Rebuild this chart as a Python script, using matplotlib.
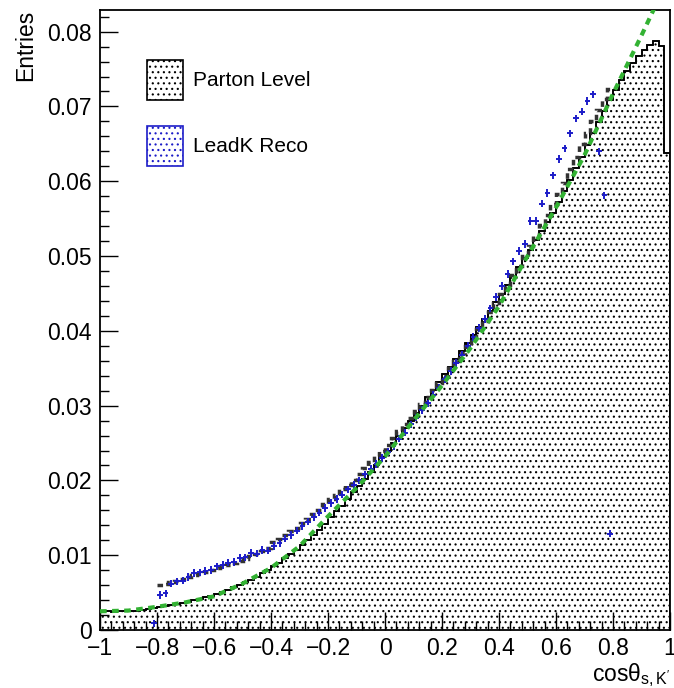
import numpy as np
import matplotlib
matplotlib.use("Agg")
import matplotlib.pyplot as plt
from matplotlib.patches import Patch
from matplotlib.ticker import MultipleLocator, FuncFormatter

plt.rcParams['font.family'] = ['Liberation Sans', 'DejaVu Sans']
plt.rcParams['mathtext.fontset'] = 'custom'
plt.rcParams['mathtext.rm'] = 'Liberation Sans'
plt.rcParams['mathtext.it'] = 'Liberation Sans:italic'
plt.rcParams['hatch.linewidth'] = 0.8

# binning: 100 bins on [-1, 1]
n_bins = 100
edges = np.linspace(-1, 1, n_bins + 1)

# Parton Level histogram (filled)
parton = [
    0.0026, 0.0025, 0.0024, 0.0025, 0.0025, 0.0026, 0.0026, 0.0027, 0.0028, 0.0029,
    0.0031, 0.0032, 0.0033, 0.0035, 0.0036, 0.0038, 0.0040, 0.0042, 0.0044, 0.0046,
    0.0048, 0.0051, 0.0054, 0.0057, 0.0060, 0.0064, 0.0067, 0.0071, 0.0076, 0.0080,
    0.0085, 0.0090, 0.0096, 0.0101, 0.0107, 0.0113, 0.0120, 0.0127, 0.0134, 0.0142,
    0.0151, 0.0159, 0.0166, 0.0175, 0.0184, 0.0192, 0.0202, 0.0211, 0.0221, 0.0231,
    0.0240, 0.0250, 0.0259, 0.0270, 0.0280, 0.0290, 0.0300, 0.0311, 0.0321, 0.0331,
    0.0342, 0.0352, 0.0362, 0.0373, 0.0384, 0.0394, 0.0405, 0.0416, 0.0427, 0.0438,
    0.0449, 0.0461, 0.0473, 0.0485, 0.0497, 0.0508, 0.0521, 0.0533, 0.0546, 0.0558,
    0.0572, 0.0587, 0.0602, 0.0618, 0.0633, 0.0649, 0.0664, 0.0679, 0.0694, 0.0708,
    0.0722, 0.0735, 0.0748, 0.0758, 0.0767, 0.0775, 0.0782, 0.0788, 0.0781, 0.0638,
]

# black dashed histogram, bins from -0.8 to 0.8
black_lo = -0.8
black = [
    0.0060, 0.0062, 0.0064, 0.0066, 0.0068, 0.0071, 0.0073, 0.0075, 0.0078, 0.0080,
    0.0083, 0.0085, 0.0087, 0.0090, 0.0092, 0.0095, 0.0099, 0.0102, 0.0106, 0.0110,
    0.0117, 0.0122, 0.0127, 0.0132, 0.0137, 0.0143, 0.0149, 0.0155, 0.0161, 0.0168,
    0.0175, 0.0181, 0.0188, 0.0194, 0.0201, 0.0208, 0.0216, 0.0224, 0.0232, 0.0240,
    0.0248, 0.0257, 0.0266, 0.0275, 0.0284, 0.0293, 0.0302, 0.0311, 0.0321, 0.0330,
    0.0340, 0.0350, 0.0360, 0.0370, 0.0380, 0.0391, 0.0402, 0.0413, 0.0425, 0.0437,
    0.0449, 0.0461, 0.0474, 0.0487, 0.0500, 0.0513, 0.0527, 0.0541, 0.0555, 0.0569,
    0.0583, 0.0598, 0.0616, 0.0633, 0.0650, 0.0665, 0.0680, 0.0695, 0.0710, 0.0724,
]

# LeadK Reco points, bins from -0.82 to 0.80
reco_lo = -0.82
reco = [
    0.0009,
    0.0047, 0.0049, 0.0062, 0.0065, 0.0066, 0.0071, 0.0076, 0.0077, 0.0079, 0.0080,
    0.0085, 0.0087, 0.0090, 0.0091, 0.0096, 0.0097, 0.0103, 0.0102, 0.0107, 0.0106,
    0.0112, 0.0116, 0.0122, 0.0127, 0.0133, 0.0139, 0.0145, 0.0151, 0.0157, 0.0163,
    0.0170, 0.0175, 0.0181, 0.0188, 0.0194, 0.0200, 0.0208, 0.0215, 0.0222, 0.0230,
    0.0238, 0.0246, 0.0256, 0.0264, 0.0275, 0.0284, 0.0294, 0.0303, 0.0314, 0.0324,
    0.0335, 0.0346, 0.0357, 0.0368, 0.0380, 0.0392, 0.0404, 0.0416, 0.0430, 0.0445,
    0.0460, 0.0476, 0.0493, 0.0507, 0.0516, 0.0547, 0.0547, 0.0570, 0.0584, 0.0608,
    0.0630, 0.0644, 0.0664, 0.0684, 0.0693, 0.0707, 0.0716, 0.0640, 0.0581, 0.0129,
]
reco_err = 0.0005

# green dashed curve
green_x = [-1.0, -0.9, -0.8, -0.7, -0.6, -0.5, -0.4, -0.3, -0.2, -0.1, 0.0,
           0.1, 0.2, 0.3, 0.4, 0.5, 0.6, 0.7, 0.8, 0.9, 1.0]
green_y = [0.0025, 0.0026, 0.0031, 0.0037, 0.0045, 0.0062, 0.0083, 0.0112, 0.0152, 0.0190, 0.0232,
           0.0280, 0.0327, 0.0377, 0.0433, 0.0500, 0.0565, 0.0635, 0.0717, 0.0795, 0.0876]

labels = ["Parton Level", "LeadK Reco"]

fig = plt.figure(figsize=(6.74, 6.88), dpi=100)
ax = fig.add_axes([0.1484, 0.0843, 0.8457, 0.9012])

ax.stairs(parton, edges, fill=True, facecolor='white', edgecolor='black',
          hatch='...', linewidth=1.2, zorder=1)
ax.stairs(parton, edges, color='black', linewidth=1.2, zorder=2)

bw = edges[1] - edges[0]
black_edges = np.arange(len(black) + 1) * bw + black_lo
ax.stairs(black, black_edges, baseline=None, color='#333333', linewidth=2.5,
          linestyle=(0, (1.6, 1.2)), zorder=3)

reco_x = reco_lo + bw / 2 + np.arange(len(reco)) * bw
ax.errorbar(reco_x, reco, xerr=bw / 2, yerr=reco_err, fmt='none',
            ecolor='#1c1cc8', elinewidth=1.4, capsize=0, zorder=4)

ax.plot(green_x, green_y, color='#33b233', linewidth=3.0,
        linestyle=(0, (1.6, 1.3)), zorder=5)

ax.set_xlim(-1, 1)
ax.set_ylim(0, 0.0829)

ax.xaxis.set_major_locator(MultipleLocator(0.2))
ax.xaxis.set_minor_locator(MultipleLocator(0.04))
ax.yaxis.set_major_locator(MultipleLocator(0.01))
ax.yaxis.set_minor_locator(MultipleLocator(0.002))
fmt = FuncFormatter(lambda v, p: ('%g' % round(v, 4)).replace('-', '\u2212'))
ax.xaxis.set_major_formatter(fmt)
ax.yaxis.set_major_formatter(fmt)
ax.tick_params(which='major', direction='in', length=13, width=1.0,
               labelsize=16.5, top=False, right=False)
ax.tick_params(which='minor', direction='in', length=6.5, width=1.0,
               top=False, right=False)
ax.tick_params(axis='y', pad=6)
ax.tick_params(axis='x', pad=5)
for s in ax.spines.values():
    s.set_linewidth(1.3)

ax.set_ylabel('Entries', loc='top', fontsize=16.5, labelpad=7)
ax.set_xlabel(r'cosθ$_{\mathregular{s,K}^{\prime}}$', loc='right', fontsize=16.5, labelpad=1)

handles = [
    Patch(facecolor='white', edgecolor='black', hatch='...', linewidth=1.2),
    Patch(facecolor='white', edgecolor='#1c1cc8', hatch='...', linewidth=1.2),
]
ax.legend(handles, labels, loc='upper left', bbox_to_anchor=(0.0825, 0.919),
          frameon=False, fontsize=15, handlelength=1.73, handleheight=2.55,
          handletextpad=0.48, labelspacing=1.25, borderpad=0, borderaxespad=0)

fig.savefig('out.png', dpi=100)
